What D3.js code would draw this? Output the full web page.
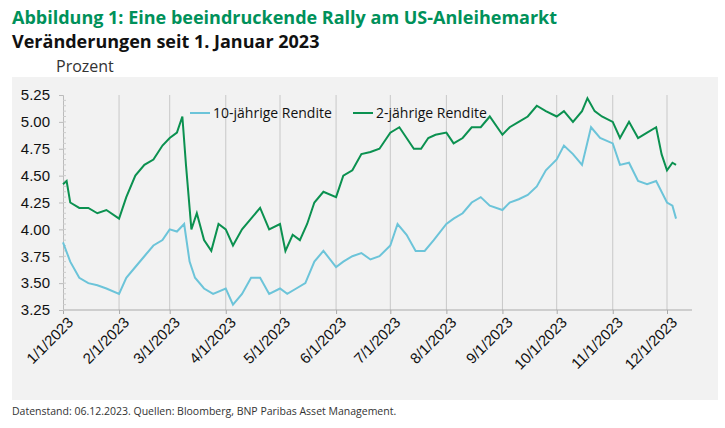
<!DOCTYPE html>
<html><head><meta charset="utf-8">
<script src="https://cdn.jsdelivr.net/npm/d3@7"></script>
<style>body{margin:0;background:#fff;font-family:"Open Sans",sans-serif}</style>
</head><body><svg id="chart" width="725" height="428"></svg>
<script>
// 10-jährige Rendite
const tenDates = ["2023-01-01","2023-01-05","2023-01-10","2023-01-15","2023-01-20","2023-01-25","2023-02-01","2023-02-05","2023-02-10","2023-02-15","2023-02-20","2023-02-25","2023-03-01","2023-03-05","2023-03-09","2023-03-12","2023-03-15","2023-03-20","2023-03-25","2023-04-01","2023-04-05","2023-04-10","2023-04-15","2023-04-20","2023-04-25","2023-05-01","2023-05-05","2023-05-10","2023-05-15","2023-05-20","2023-05-25","2023-06-01","2023-06-05","2023-06-10","2023-06-15","2023-06-20","2023-06-25","2023-07-01","2023-07-05","2023-07-10","2023-07-15","2023-07-20","2023-07-25","2023-08-01","2023-08-05","2023-08-10","2023-08-15","2023-08-20","2023-08-25","2023-09-01","2023-09-05","2023-09-10","2023-09-15","2023-09-20","2023-09-25","2023-10-01","2023-10-05","2023-10-10","2023-10-15","2023-10-20","2023-10-25","2023-11-01","2023-11-05","2023-11-10","2023-11-15","2023-11-20","2023-11-25","2023-12-01","2023-12-04","2023-12-06"];
const tenValues = [3.88,3.70,3.55,3.50,3.48,3.45,3.40,3.55,3.65,3.75,3.85,3.90,4.00,3.98,4.05,3.70,3.55,3.45,3.40,3.45,3.30,3.40,3.55,3.55,3.40,3.45,3.40,3.45,3.50,3.70,3.80,3.65,3.70,3.75,3.78,3.72,3.75,3.85,4.05,3.95,3.80,3.80,3.90,4.05,4.10,4.15,4.25,4.30,4.22,4.18,4.25,4.28,4.32,4.40,4.55,4.65,4.78,4.70,4.60,4.95,4.85,4.80,4.60,4.62,4.45,4.42,4.45,4.25,4.22,4.10];
// 2-jährige Rendite
const twoDates = ["2023-01-01","2023-01-03","2023-01-05","2023-01-10","2023-01-15","2023-01-20","2023-01-25","2023-02-01","2023-02-05","2023-02-10","2023-02-15","2023-02-20","2023-02-25","2023-03-01","2023-03-05","2023-03-08","2023-03-10","2023-03-13","2023-03-16","2023-03-20","2023-03-24","2023-03-28","2023-04-01","2023-04-05","2023-04-10","2023-04-15","2023-04-20","2023-04-25","2023-05-01","2023-05-04","2023-05-08","2023-05-12","2023-05-16","2023-05-20","2023-05-25","2023-06-01","2023-06-05","2023-06-10","2023-06-15","2023-06-20","2023-06-25","2023-07-01","2023-07-06","2023-07-10","2023-07-14","2023-07-18","2023-07-22","2023-07-26","2023-08-01","2023-08-05","2023-08-10","2023-08-15","2023-08-20","2023-08-25","2023-09-01","2023-09-05","2023-09-10","2023-09-15","2023-09-20","2023-09-25","2023-10-01","2023-10-05","2023-10-10","2023-10-15","2023-10-18","2023-10-22","2023-10-26","2023-11-01","2023-11-05","2023-11-10","2023-11-15","2023-11-20","2023-11-25","2023-11-28","2023-12-01","2023-12-04","2023-12-06"];
const twoValues = [4.42,4.45,4.25,4.20,4.20,4.15,4.18,4.10,4.30,4.50,4.60,4.65,4.78,4.85,4.90,5.05,4.60,4.00,4.15,3.90,3.80,4.05,4.00,3.85,4.00,4.10,4.20,4.00,4.05,3.80,3.95,3.90,4.05,4.25,4.35,4.30,4.50,4.55,4.70,4.72,4.75,4.90,4.95,4.85,4.75,4.75,4.85,4.88,4.90,4.80,4.85,4.95,4.95,5.05,4.88,4.95,5.00,5.05,5.15,5.10,5.05,5.10,5.00,5.10,5.22,5.10,5.05,5.00,4.85,5.00,4.85,4.90,4.95,4.70,4.55,4.62,4.60];
const yTicks = [3.25,3.50,3.75,4.00,4.25,4.50,4.75,5.00,5.25];
const monthTicks = ["2023-01-01","2023-02-01","2023-03-01","2023-04-01","2023-05-01","2023-06-01","2023-07-01","2023-08-01","2023-09-01","2023-10-01","2023-11-01","2023-12-01"];

const parse = d3.timeParse("%Y-%m-%d");
const fmt = d3.timeFormat("%-m/%-d/%Y");
const svg = d3.select("#chart");

svg.append("text").attr("x",12).attr("y",24).attr("fill","#00915a")
  .attr("font-size",18).attr("font-weight","bold").text("Abbildung 1: Eine beeindruckende Rally am US-Anleihemarkt");
svg.append("text").attr("x",12).attr("y",48).attr("fill","#111")
  .attr("font-size",18).attr("font-weight","bold").text("Veränderungen seit 1. Januar 2023");
svg.append("text").attr("x",56).attr("y",72).attr("fill","#333")
  .attr("font-size",16).text("Prozent");

svg.append("rect").attr("x",12).attr("y",77).attr("width",706).attr("height",323).attr("fill","#f2f2f2");

const x = d3.scaleTime().domain([parse("2023-01-01"), parse("2023-12-01")]).range([63, 667]);
const y = d3.scaleLinear().domain([3.25, 5.25]).range([310, 95]);

// vertical grid
svg.append("g").selectAll("line").data(monthTicks.slice(1)).join("line")
  .attr("x1",d=>x(parse(d))).attr("x2",d=>x(parse(d)))
  .attr("y1",95).attr("y2",310).attr("stroke","#c8c8c8").attr("stroke-width",1);

// x axis
const xa = svg.append("g").attr("transform","translate(0,310)")
  .call(d3.axisBottom(x).tickValues(monthTicks.map(parse)).tickFormat(fmt).tickSize(4));
xa.select(".domain").attr("stroke","#aaa").attr("d","M63,0H692");
xa.selectAll(".tick line").attr("stroke","#aaa");
xa.selectAll("text").attr("font-size",15).attr("fill","#111")
  .attr("text-anchor","end").attr("dx","-2").attr("dy","10")
  .attr("transform","rotate(-45)");

// y axis
const ya = svg.append("g").attr("transform","translate(63,0)")
  .call(d3.axisLeft(y).tickValues(yTicks).tickFormat(d3.format(".2f")).tickSize(4));
ya.select(".domain").attr("stroke","#bbb");
ya.selectAll(".tick line").attr("stroke","#bbb");
ya.selectAll("text").attr("font-size",15).attr("fill","#111").attr("dx","-6");
svg.append("g").selectAll("line").data(d3.range(3.25,5.25,0.05)).join("line")
  .attr("x1",63).attr("x2",66).attr("y1",d=>y(d)).attr("y2",d=>y(d)).attr("stroke","#ccc");

const line = d3.line().x(d=>x(d[0])).y(d=>y(d[1]));
svg.append("path").datum(tenDates.map((d,i)=>[parse(d),tenValues[i]]))
  .attr("d",line).attr("fill","none").attr("stroke","#6cc4d9").attr("stroke-width",2);
svg.append("path").datum(twoDates.map((d,i)=>[parse(d),twoValues[i]]))
  .attr("d",line).attr("fill","none").attr("stroke","#0b9150").attr("stroke-width",2);

// legend
const lg = [["10-jährige Rendite","#6cc4d9",190],["2-jährige Rendite","#0b9150",353]];
lg.forEach(([t,c,lx])=>{
  svg.append("rect").attr("x",lx).attr("y",109).attr("width",20).attr("height",12).attr("fill","#f2f2f2");
  svg.append("line").attr("x1",lx).attr("x2",lx+20).attr("y1",113).attr("y2",113).attr("stroke",c).attr("stroke-width",2);
  svg.append("text").attr("x",lx+23).attr("y",118).attr("font-size",14).attr("fill","#111").text(t);
});

svg.append("text").attr("x",12).attr("y",415).attr("font-size",10.5).attr("fill","#333")
  .text("Datenstand: 06.12.2023. Quellen: Bloomberg, BNP Paribas Asset Management.");
</script></body></html>
